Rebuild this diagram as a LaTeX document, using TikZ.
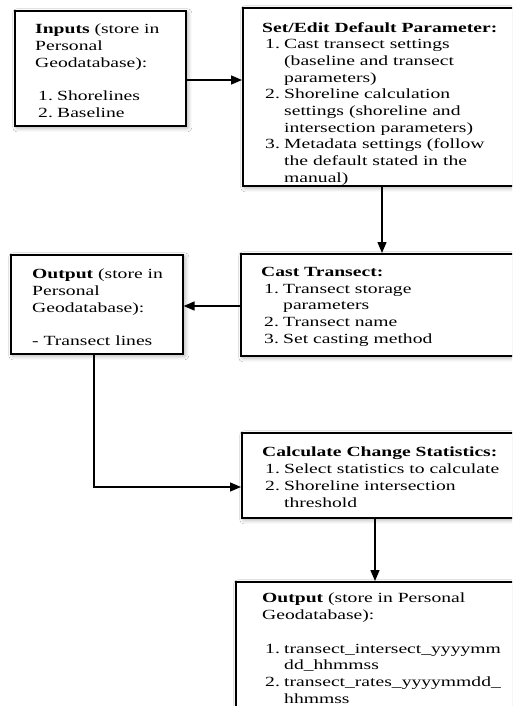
\documentclass[tikz,border=0pt]{standalone}
\usepackage{fontspec}
\setmainfont{Liberation Serif}[FakeStretch=1.4]
\usetikzlibrary{arrows.meta,shadows.blur}
\newcommand\itm[1]{\hspace*{3pt}\makebox[19pt][l]{#1}}
\newcommand\cnt{\hspace*{22pt}}
\begin{document}
\begin{tikzpicture}[x=1pt,y=-1pt,
  box/.style={draw=black,line width=1.6pt,fill=white,rectangle,inner sep=0pt,anchor=north west,
    blur shadow={shadow xshift=2pt,shadow yshift=-2pt,shadow blur radius=4pt,shadow opacity=35}},
  txt/.style={anchor=north west,inner sep=0pt,align=left,font=\fontsize{14}{16.7}\selectfont},
  conn/.style={line width=1.4pt,-{Triangle[length=11pt,width=9pt]}}
]
\useasboundingbox (0,0) rectangle (512,706);
\fill[white] (0,0) rectangle (512,706);
\clip (0,0) rectangle (512,706);

\node[box,minimum width=171pt,minimum height=115pt] (b1) at (14,10) {};
\node[box,minimum width=290pt,minimum height=178pt] (b2) at (242,7) {};
\node[box,minimum width=172pt,minimum height=99pt] (b3) at (10,254) {};
\node[box,minimum width=290pt,minimum height=102pt] (b4) at (240,253) {};
\node[box,minimum width=290pt,minimum height=85pt] (b5) at (241,432) {};
\node[box,minimum width=290pt,minimum height=150pt] (b6) at (235,581) {};

\node[txt] (t1) at (35,24) {\textbf{Inputs} (store in\\Personal\\Geodatabase):\\[16.7pt]\itm{1.}Shorelines\\\itm{2.}Baseline};
\node[txt] (t2) at (262,22) {\textbf{Set/Edit Default Parameter:}\\\itm{1.}Cast transect settings\\\cnt(baseline and transect\\\cnt parameters)\\\itm{2.}Shoreline calculation\\\cnt settings (shoreline and\\\cnt intersection parameters)\\\itm{3.}Metadata settings (follow\\\cnt the default stated in the\\\cnt manual)};
\node[txt] (t3) at (32,269) {\textbf{Output} (store in\\Personal\\Geodatabase):\\[16.7pt]- Transect lines};
\node[txt] (t4) at (261,267) {\textbf{Cast Transect:}\\\itm{1.}Transect storage\\\cnt parameters\\\itm{2.}Transect name\\\itm{3.}Set casting method};
\node[txt] (t5) at (262,447) {\textbf{Calculate Change Statistics:}\\\itm{1.}Select statistics to calculate\\\itm{2.}Shoreline intersection\\\cnt threshold};
\node[txt] (t6) at (262,593) {\textbf{Output} (store in Personal\\Geodatabase):\\[16.7pt]\itm{1.}transect\_intersect\_yyyymm\\\cnt dd\_hhmmss\\\itm{2.}transect\_rates\_yyyymmdd\_\\\cnt hhmmss};

\coordinate (y1) at (0,80);
\coordinate (x2) at (382,0);
\coordinate (y3) at (0,306);
\coordinate (x4) at (94,0);
\coordinate (y4) at (0,487);
\coordinate (x5) at (375,0);

\draw[conn] (b1.east |- y1) -- (b2.west |- y1);
\draw[conn] (b2.south -| x2) -- (b4.north -| x2);
\draw[conn] (b4.west |- y3) -- (b3.east |- y3);
\draw[conn] (b3.south -| x4) |- (b5.west |- y4);
\draw[conn] (b5.south -| x5) -- (b6.north -| x5);
\end{tikzpicture}
\end{document}
